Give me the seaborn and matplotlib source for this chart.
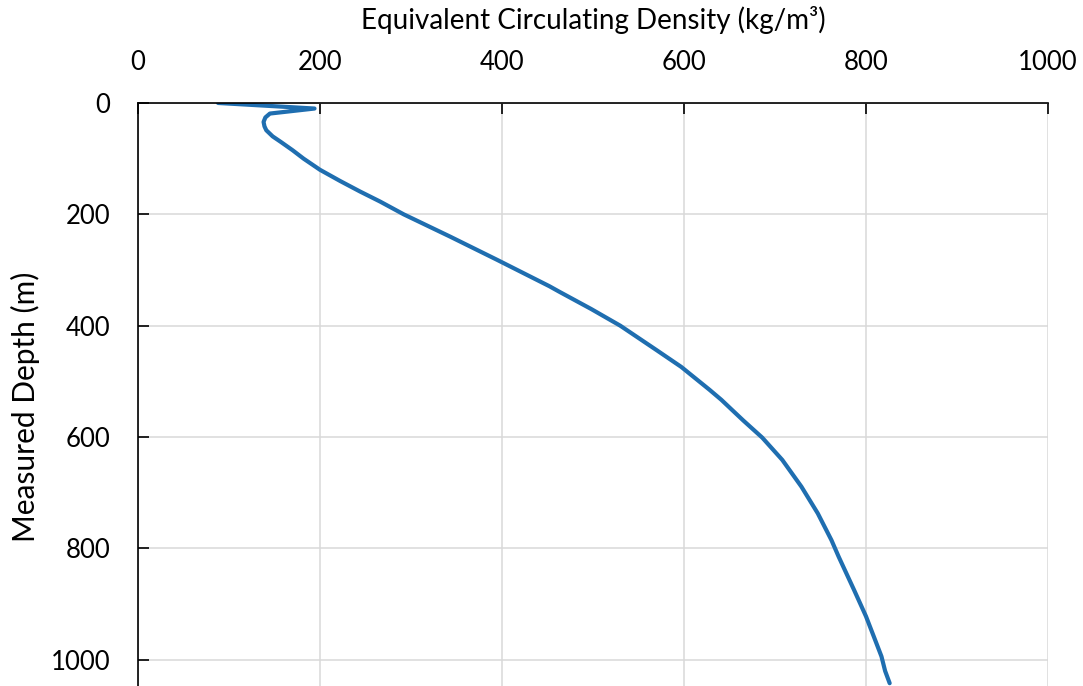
import matplotlib
matplotlib.use("Agg")
import matplotlib.pyplot as plt
import seaborn as sns
import pandas as pd

# Equivalent circulating density profile along the well
depth_m = [0, 10, 19, 26, 34, 42, 49, 60, 70, 85, 100, 120, 140, 159, 177, 200,
           240, 282, 329, 339, 370, 400, 422, 444, 474, 515, 533, 550, 570, 601,
           641, 689, 737, 785, 815, 875, 922, 960, 994, 1020, 1042]
ecd_kgm3 = [88, 194, 145, 140, 138, 139, 141, 148, 157, 170, 182, 200, 222, 244, 266, 292,
            343, 395, 452, 463, 498, 530, 550, 570, 597, 628, 641, 652, 665, 686,
            708, 729, 747, 762, 770, 787, 800, 809, 817, 821, 826]

x_ticks = [0, 200, 400, 600, 800, 1000]
y_ticks = [0, 200, 400, 600, 800, 1000]

df = pd.DataFrame({"ECD": ecd_kgm3, "Depth": depth_m})

sns.set_theme(style="white")
plt.rcParams["font.family"] = ["Lato", "DejaVu Sans"]

fig = plt.figure(figsize=(10.83, 6.86), dpi=100)
ax = fig.add_axes([0.1274, 0.0, 0.8403, 0.8499])

sns.lineplot(data=df, x="ECD", y="Depth", sort=False, ax=ax,
             color="#1f6eb0", linewidth=3.0, solid_capstyle="round",
             solid_joinstyle="round")

ax.set_xlim(0, 1000)
ax.set_ylim(1047, 0)
ax.set_xticks(x_ticks)
ax.set_yticks(y_ticks)

ax.xaxis.tick_top()
ax.xaxis.set_label_position("top")
ax.grid(True, color="#d9d9d9", linewidth=1.1)
ax.set_axisbelow(True)

for side in ["right", "bottom"]:
    ax.spines[side].set_visible(False)
for side in ["top", "left"]:
    ax.spines[side].set_visible(True)
    ax.spines[side].set_color("black")
    ax.spines[side].set_linewidth(1.2)

ax.tick_params(axis="x", which="major", direction="in", length=8, width=1.2,
               color="black", top=True, bottom=False, labeltop=True,
               labelbottom=False, pad=20, labelsize=18.5, labelcolor="black")
ax.tick_params(axis="y", which="major", direction="in", length=8, width=1.2,
               color="black", left=True, pad=20, labelsize=18.5, labelcolor="black")

ax.set_xlabel("Equivalent Circulating Density (kg/m³)", fontsize=20,
              labelpad=15, color="black")
ax.set_ylabel("Measured Depth (m)", fontsize=21.5, labelpad=9, color="black")
ax.yaxis.set_label_coords(-0.108, 0.479)

fig.savefig("out.png", dpi=100)
